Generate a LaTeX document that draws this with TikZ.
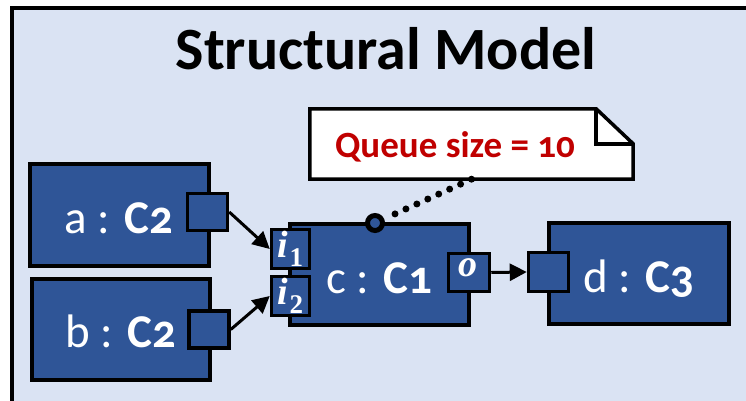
\documentclass[tikz,border=0pt]{standalone}
\usepackage{fontspec}
\setmainfont{Carlito}[Numbers=OldStyle]
\newfontfamily\portfont{Liberation Serif}
\usetikzlibrary{arrows.meta,calc}

\definecolor{panelbg}{HTML}{DAE3F3}
\definecolor{partblue}{HTML}{2F5597}
\definecolor{notered}{HTML}{C00000}

\newcommand{\portname}[2]{{\portfont\bfseries\itshape #1\kern0.03em\raisebox{-0.24em}{\fontsize{27}{28}\selectfont\upshape #2}}}

\tikzset{
  part/.style={draw=black, line width=4pt, fill=partblue, inner sep=0pt},
  portbox/.style={draw=black, line width=3.5pt, fill=partblue, inner sep=0pt,
    minimum width=38pt, minimum height=37pt, text=white,
    font=\fontsize{38}{40}\selectfont},
  partlabel/.style={anchor=base, text=white, inner sep=0pt,
    font=\fontsize{47}{50}\selectfont},
  link/.style={line width=3pt, -{Triangle[length=17pt,width=17pt]}},
  qdots/.style={line width=7pt, line cap=round, dash pattern=on 0pt off 12pt},
}

\begin{document}
\begin{tikzpicture}[x=1pt,y=-1pt]
\useasboundingbox (0,0) rectangle (746,401);
\clip (0,0) rectangle (746,401);

% panel
\draw[line width=4.5pt, fill=panelbg] (12,8) rectangle (770,420);
\node[anchor=base, inner sep=0pt, font=\fontsize{60}{64}\selectfont\bfseries] (title)
  at (386,70) {Structural Model};

% parts
\node[part, minimum width=179pt, minimum height=102pt] (a) at (119,214.5) {};
\node[part, minimum width=178pt, minimum height=101pt] (b) at (120.5,329) {};
\node[part, minimum width=179pt, minimum height=101pt] (c) at (379,274) {};
\node[part, minimum width=180pt, minimum height=101pt] (d) at (638.5,273) {};

\node[partlabel] (la) at (119,233) {a : \textbf{C2}};
\node[partlabel] (lb) at (120.5,347) {b : \textbf{C2}};
\node[partlabel] (lc) at (379,293) {c : \textbf{C1}};
\node[partlabel] (ld) at (638.5,292) {d : \textbf{C3}};

% ports
\node[portbox, minimum width=40pt] (pa) at (207.5,212) {};
\node[portbox, minimum width=40pt] (pb) at (209,329.5) {};
\node[portbox, minimum height=39pt] (i1) at (290.5,249) {\portname{i}{1}};
\node[portbox, minimum height=39pt] (i2) at (290.5,296) {\portname{i}{2}};
\node[portbox, minimum width=41pt, minimum height=38pt] (o) at (469,272.5) {\portname{o}{}};
\node[portbox, minimum width=40pt, minimum height=39pt] (pd) at (548.5,272) {};

% connectors
\draw[link] (pa.east) -- (i1.west);
\draw[link] (pb.east) -- (i2.west);
\draw[link] (o.east) -- (pd.west);

% note with folded corner
\node[inner sep=0pt, minimum width=323pt, minimum height=70pt] (note) at (471.5,144) {};
\draw[line width=3.5pt, line join=miter, fill=white]
  (note.south west) -- (note.north west) -- ($(note.north east)+(-37,0)$)
  -- ($(note.north east)+(0,35)$) -- (note.south east) -- cycle;
\draw[line width=3.5pt, line join=miter]
  ($(note.north east)+(-37,0)$) -- ($(note.north east)+(-37,35)$) -- ($(note.north east)+(0,35)$);
\node[anchor=base, inner sep=0pt, text=notered, font=\fontsize{37}{40}\selectfont\bfseries]
  (qtext) at (455,157) {Queue size = 10};

% attachment of the note to part c
\node[circle, draw=black, line width=5pt, fill=partblue, minimum size=15pt, inner sep=0pt]
  (qc) at (375,223) {};
\draw[qdots] (note.south) -- (qc);
\end{tikzpicture}
\end{document}
